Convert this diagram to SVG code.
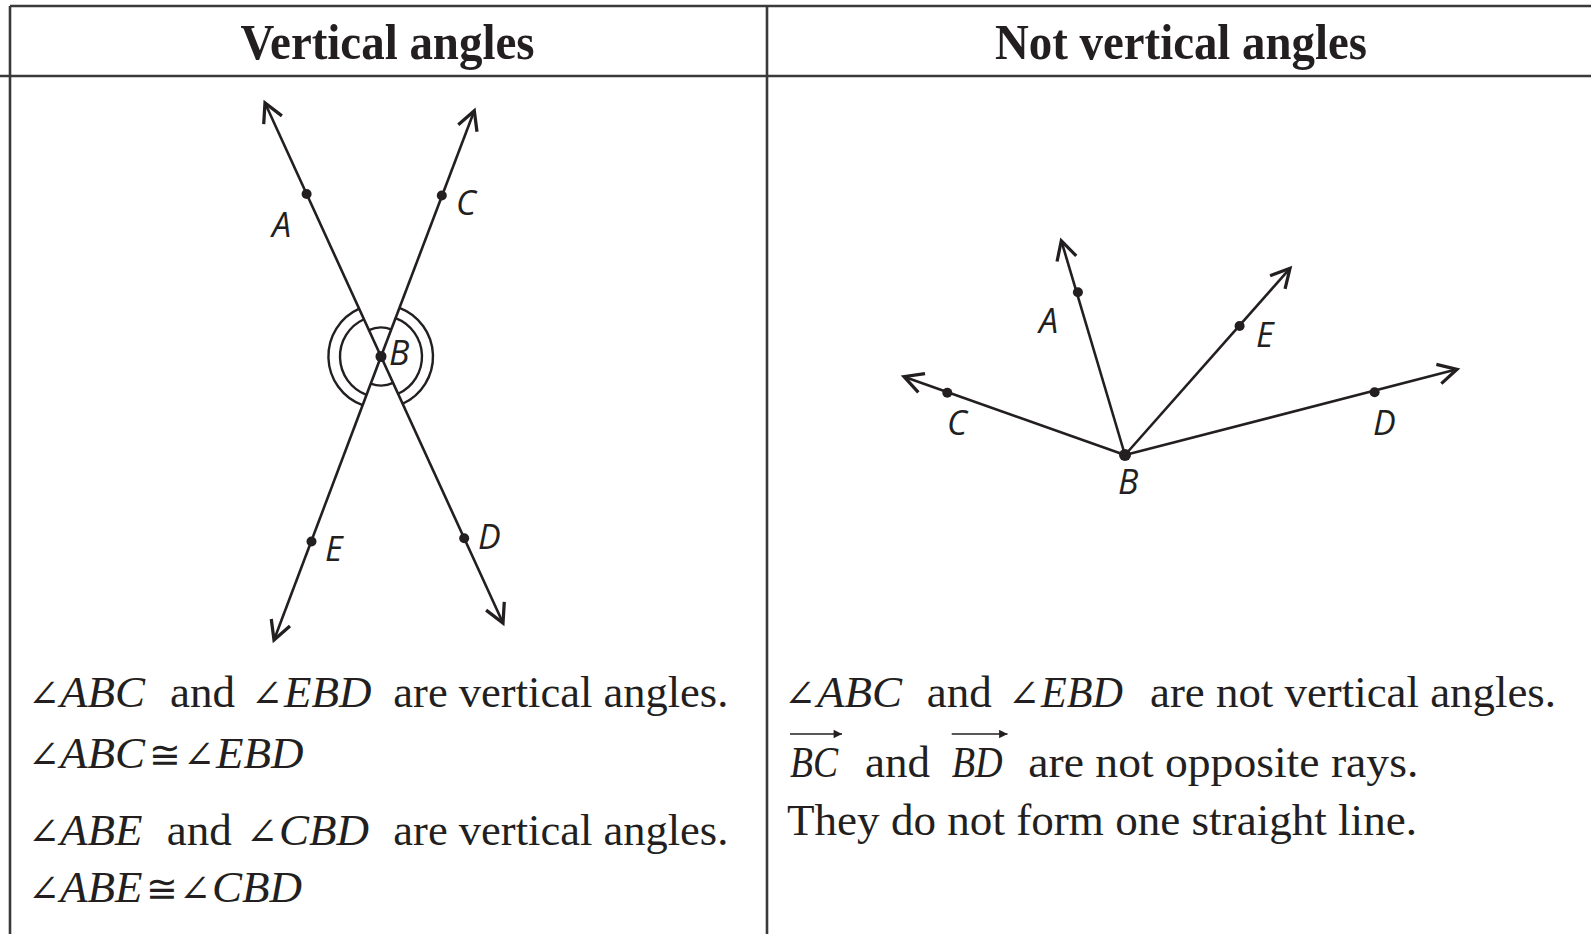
<svg xmlns="http://www.w3.org/2000/svg" width="1591" height="934" viewBox="0 0 1591 934">
<style>
.frame{stroke:#3a3a3a;stroke-width:2.6;fill:none}
.ray{stroke:#231f20;stroke-width:2.6;fill:none}
.arc{stroke:#231f20;stroke-width:2.4;fill:none}
.dot{fill:#231f20}
.lbl{font-family:"Open Sans","Noto Sans","Liberation Sans",sans-serif;font-style:italic;font-size:34px;fill:#231f20}
.hd{font-family:"Liberation Serif","DejaVu Serif",serif;font-weight:bold;font-size:50px;fill:#231f20}
.tx{font-family:"Liberation Serif","DejaVu Serif",serif;font-size:45px;fill:#231f20}
.it{font-style:italic}
.sym{font-family:"DejaVu Serif","DejaVu Sans",serif;font-size:38px;font-style:normal}
.ovr{stroke:#231f20;stroke-width:1.6;fill:none}
</style>
<defs>
<marker id="head" markerUnits="userSpaceOnUse" markerWidth="30" markerHeight="30" viewBox="-20 -12 24 24" refX="0" refY="0" orient="auto">
<path d="M -15 -8 L 0 0 L -15 8" fill="none" stroke="#231f20" stroke-width="2.6" stroke-linejoin="miter"/>
</marker>
<marker id="small" markerUnits="userSpaceOnUse" markerWidth="12" markerHeight="12" viewBox="-8 -5 10 10" refX="0" refY="0" orient="auto">
<path d="M -7 -3.5 L 0 0 L -7 3.5 Z" fill="#231f20"/>
</marker>
</defs>
<rect width="1591" height="934" fill="#ffffff"/>

<g id="table">
<line class="frame" x1="10" y1="6" x2="1591" y2="6"/>
<line class="frame" x1="0" y1="76" x2="1591" y2="76"/>
<line class="frame" x1="10" y1="6" x2="10" y2="934"/>
<line class="frame" x1="767" y1="6" x2="767" y2="934"/>
</g>

<g id="headers">
<text class="hd" x="240.5" y="59" textLength="294" lengthAdjust="spacingAndGlyphs">Vertical angles</text>
<text class="hd" x="995" y="59" textLength="372" lengthAdjust="spacingAndGlyphs">Not vertical angles</text>
</g>

<g id="connectors">
<line class="ray" x1="381" y1="356.5" x2="265" y2="103" marker-end="url(#head)"/>
<line class="ray" x1="381" y1="356.5" x2="503" y2="623" marker-end="url(#head)"/>
<line class="ray" x1="381" y1="356.5" x2="474.3" y2="110.7" marker-end="url(#head)"/>
<line class="ray" x1="381" y1="356.5" x2="274" y2="640" marker-end="url(#head)"/>
<path class="arc" d="M 368.9 330.1 A 29 29 0 0 1 391.3 329.4"/>
<path class="arc" d="M 393.1 382.9 A 29 29 0 0 1 370.7 383.6"/>
<path class="arc" d="M 395.55 318.17 A 41 41 0 0 1 398.06 393.78"/>
<path class="arc" d="M 399.45 307.89 A 52 52 0 0 1 402.64 403.78"/>
<path class="arc" d="M 366.45 394.83 A 41 41 0 0 1 363.94 319.22"/>
<path class="arc" d="M 362.55 405.11 A 52 52 0 0 1 359.36 308.72"/>
<line class="ray" x1="1125" y1="455" x2="1061.3" y2="240.7" marker-end="url(#head)"/>
<line class="ray" x1="1125" y1="455" x2="1290" y2="268.3" marker-end="url(#head)"/>
<line class="ray" x1="1125" y1="455" x2="904" y2="376.7" marker-end="url(#head)"/>
<line class="ray" x1="1125" y1="455" x2="1457" y2="369.3" marker-end="url(#head)"/>
</g>

<g id="left-A"><circle class="dot" cx="306.6" cy="194" r="5"/><text class="lbl" x="272" y="237">A</text></g>
<g id="left-C"><circle class="dot" cx="441.8" cy="195.5" r="5"/><text class="lbl" x="456" y="215">C</text></g>
<g id="left-B"><circle class="dot" cx="381" cy="356.5" r="5.5"/><text class="lbl" x="389" y="365">B</text></g>
<g id="left-E"><circle class="dot" cx="311.5" cy="541.5" r="5"/><text class="lbl" x="325" y="561">E</text></g>
<g id="left-D"><circle class="dot" cx="464.2" cy="538.3" r="5"/><text class="lbl" x="478" y="549">D</text></g>

<g id="right-A"><circle class="dot" cx="1077.9" cy="292.3" r="5"/><text class="lbl" x="1039" y="333">A</text></g>
<g id="right-E"><circle class="dot" cx="1239.6" cy="326" r="5"/><text class="lbl" x="1256" y="347">E</text></g>
<g id="right-C"><circle class="dot" cx="947.3" cy="392.7" r="5"/><text class="lbl" x="947" y="435">C</text></g>
<g id="right-D"><circle class="dot" cx="1374.6" cy="392.3" r="5"/><text class="lbl" x="1373" y="435">D</text></g>
<g id="right-B"><circle class="dot" cx="1125" cy="455" r="6"/><text class="lbl" x="1118" y="494">B</text></g>

<g id="left-text">
<text class="tx" y="706.7"><tspan class="sym" x="28">∠</tspan><tspan class="it" x="60">ABC</tspan><tspan x="170">and</tspan><tspan class="sym" x="251">∠</tspan><tspan class="it" x="284">EBD</tspan></text>
<text class="tx" x="393.3" y="706.7" textLength="335" lengthAdjust="spacingAndGlyphs">are vertical angles.</text>

<text class="tx" y="768.3"><tspan class="sym" x="28">∠</tspan><tspan class="it" x="60">ABC</tspan><tspan class="sym" x="149">≅</tspan><tspan class="sym" x="183">∠</tspan><tspan class="it" x="216">EBD</tspan></text>

<text class="tx" y="845"><tspan class="sym" x="28">∠</tspan><tspan class="it" x="60">ABE</tspan><tspan x="166.7">and</tspan><tspan class="sym" x="246">∠</tspan><tspan class="it" x="279">CBD</tspan></text>
<text class="tx" x="393.3" y="845" textLength="335" lengthAdjust="spacingAndGlyphs">are vertical angles.</text>

<text class="tx" y="901.7"><tspan class="sym" x="28">∠</tspan><tspan class="it" x="60">ABE</tspan><tspan class="sym" x="146">≅</tspan><tspan class="sym" x="179">∠</tspan><tspan class="it" x="212">CBD</tspan></text>
</g>

<g id="right-text">
<text class="tx" y="706.7"><tspan class="sym" x="784">∠</tspan><tspan class="it" x="817">ABC</tspan><tspan x="926.7">and</tspan><tspan class="sym" x="1008">∠</tspan><tspan class="it" x="1041" textLength="82" lengthAdjust="spacingAndGlyphs">EBD</tspan></text>
<text class="tx" x="1150" y="706.7" textLength="406" lengthAdjust="spacingAndGlyphs">are not vertical angles.</text>

<text class="tx" y="776.7"><tspan class="it" x="790" textLength="48" lengthAdjust="spacingAndGlyphs">BC</tspan><tspan x="865">and</tspan><tspan class="it" x="951.7" textLength="51" lengthAdjust="spacingAndGlyphs">BD</tspan></text>
<text class="tx" x="1028.3" y="776.7" textLength="390" lengthAdjust="spacingAndGlyphs">are not opposite rays.</text>
<line class="ovr" x1="790" y1="734" x2="842" y2="734" marker-end="url(#small)"/>
<line class="ovr" x1="951.7" y1="734" x2="1007.5" y2="734" marker-end="url(#small)"/>

<text class="tx" x="787" y="835" textLength="630" lengthAdjust="spacingAndGlyphs">They do not form one straight line.</text>
</g>
</svg>
